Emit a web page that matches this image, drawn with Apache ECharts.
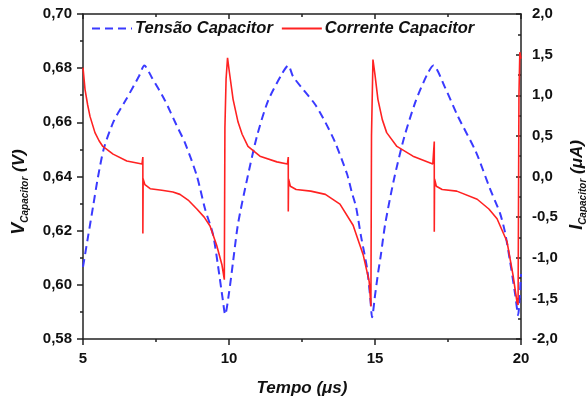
<!DOCTYPE html>
<html>
<head>
<meta charset="utf-8">
<script src="https://cdn.jsdelivr.net/npm/echarts@6/dist/echarts.min.js"></script>
<style>html,body{margin:0;padding:0;background:#fff}#c{width:587px;height:402px}</style>
</head>
<body>
<div id="c"></div>
<script>
// Voltage (V) vs time (µs)
var vTime = [5.0,5.17,5.34,5.51,5.72,6.06,6.47,6.92,7.1,
  7.36,7.81,8.2,8.49,8.9,9.18,9.45,9.62,9.79,9.87,
  10.0,10.14,10.31,10.62,10.96,11.34,11.82,12.03,
  12.19,12.55,12.95,13.3,13.63,14.04,14.21,14.35,14.52,14.73,14.84,14.9,
  15.0,15.1,15.2,15.35,15.65,16.0,16.4,16.8,17.0,
  17.4,17.84,18.46,18.94,19.28,19.45,19.62,19.8,19.9,20.0];
var vValues = [0.6066,0.6176,0.6286,0.6396,0.6506,0.6606,0.6683,0.6771,0.681,
  0.6765,0.668,0.659,0.6525,0.6402,0.628,0.6187,0.6073,0.5943,0.589,
  0.597,0.6086,0.6226,0.639,0.655,0.668,0.678,0.681,
  0.677,0.672,0.6666,0.660,0.6527,0.641,0.634,0.6288,0.618,0.606,0.595,0.588,
  0.596,0.604,0.611,0.6225,0.639,0.6545,0.668,0.678,0.681,
  0.6728,0.6622,0.649,0.6354,0.6265,0.6195,0.609,0.5965,0.5888,0.604];
// Current (µA) vs time (µs)
var iTime = [5.0,5.07,5.16,5.24,5.41,5.55,5.68,6.03,6.5,7.02,7.05,7.05,7.06,7.12,7.3,7.7,8.08,8.32,8.6,8.9,9.15,9.35,9.58,9.76,9.84,
  9.86,9.9,9.95,10.0,10.03,10.14,10.31,10.45,10.65,11.06,11.64,12.0,12.03,12.03,12.04,12.1,12.3,12.8,13.3,13.8,14.25,14.6,14.8,14.86,
  14.88,14.93,15.0,15.1,15.25,15.4,15.75,16.3,16.98,17.03,17.03,17.04,17.1,17.3,17.8,18.5,18.9,19.18,19.52,19.73,19.86,19.9,
  19.93,19.96,20.0];
var iValues = [1.34,1.07,0.88,0.74,0.54,0.44,0.37,0.275,0.19,0.153,0.24,-0.70,-0.03,-0.10,-0.15,-0.17,-0.19,-0.22,-0.29,-0.40,-0.50,-0.61,-0.85,-1.09,-1.27,
  0.6,1.2,1.46,1.32,1.24,0.95,0.67,0.52,0.37,0.25,0.18,0.153,0.24,-0.43,-0.03,-0.12,-0.16,-0.18,-0.22,-0.34,-0.60,-0.97,-1.29,-1.6,
  0.5,1.44,1.25,0.95,0.7,0.54,0.37,0.25,0.153,0.43,-0.68,-0.03,-0.12,-0.16,-0.18,-0.28,-0.40,-0.52,-0.80,-1.22,-1.54,-1.58,
  1.0,1.53,1.45];
var xTicks = [5, 10, 15, 20];
var seriesNames = ['Tensão Capacitor', 'Corrente Capacitor'];

var vData = vTime.map(function (t, k) { return [t, vValues[k]]; });
var iData = iTime.map(function (t, k) { return [t, iValues[k]]; });

var axisCol = '#222';
var lab = {fontFamily: 'Liberation Sans', fontWeight: 'bold', fontSize: 15, color: '#111'};
function comma(d) { return function (v) { return v.toFixed(d).replace('.', ','); }; }

var chart = echarts.init(document.getElementById('c'), null, {renderer: 'canvas'});
chart.setOption({
  animation: false,
  backgroundColor: '#fff',
  grid: {left: 83, right: 66, top: 14, bottom: 61},
  legend: {
    left: 86, top: 15, itemWidth: 40, itemHeight: 14, itemGap: 8,
    data: seriesNames,
    itemStyle: {color: 'rgba(0,0,0,0)', borderWidth: 0},
    textStyle: {fontFamily: 'Liberation Sans', fontWeight: 'bold', fontStyle: 'italic', fontSize: 16.5, color: '#111', padding: [0, 0, 0, -2]}
  },
  xAxis: [{
    type: 'value', min: 5, max: 20, interval: 5, position: 'bottom',
    axisLine: {show: true, onZero: false, lineStyle: {color: axisCol, width: 1.5}},
    axisTick: {show: true, inside: false, length: 6, lineStyle: {color: axisCol, width: 1.5}},
    minorTick: {show: true, splitNumber: 2, length: 3, lineStyle: {color: axisCol, width: 1.5}},
    splitLine: {show: false},
    axisLabel: Object.assign({margin: 12, formatter: function (v) { return xTicks.indexOf(v) >= 0 ? String(v) : ''; }}, lab),
    name: 'Tempo (μs)', nameLocation: 'middle', nameGap: 41,
    nameTextStyle: {fontFamily: 'Liberation Sans', fontWeight: 'bold', fontStyle: 'italic', fontSize: 17, color: '#111'}
  }, {
    type: 'value', min: 5, max: 20, interval: 5, position: 'top',
    axisLine: {show: true, onZero: false, lineStyle: {color: axisCol, width: 1.5}},
    axisTick: {show: true, inside: true, length: 5, lineStyle: {color: axisCol, width: 1.5}},
    minorTick: {show: true, splitNumber: 2, length: 3, lineStyle: {color: axisCol, width: 1.5}},
    splitLine: {show: false}, axisLabel: {show: false}
  }],
  yAxis: [{
    type: 'value', min: 0.58, max: 0.70, interval: 0.02, position: 'left',
    axisLine: {show: true, onZero: false, lineStyle: {color: axisCol, width: 1.5}},
    axisTick: {show: true, inside: false, length: 6, lineStyle: {color: axisCol, width: 1.5}},
    minorTick: {show: true, splitNumber: 2, length: 3, lineStyle: {color: axisCol, width: 1.5}},
    splitLine: {show: false},
    axisLabel: Object.assign({margin: 11, formatter: comma(2)}, lab)
  }, {
    type: 'value', min: -2, max: 2, interval: 0.5, position: 'right',
    axisLine: {show: true, onZero: false, lineStyle: {color: axisCol, width: 1.5}},
    axisTick: {show: true, inside: true, length: 5, lineStyle: {color: axisCol, width: 1.5}},
    minorTick: {show: true, splitNumber: 2, length: 3, lineStyle: {color: axisCol, width: 1.5}},
    splitLine: {show: false},
    axisLabel: Object.assign({margin: 11, formatter: comma(1)}, lab)
  }],
  series: [{
    name: seriesNames[0], type: 'line', xAxisIndex: 0, yAxisIndex: 0,
    data: vData, symbol: 'none', smooth: 0.25, z: 2,
    lineStyle: {color: '#3a3aff', width: 2, type: [8, 5]},
    itemStyle: {color: '#3a3aff'}
  }, {
    name: seriesNames[1], type: 'line', xAxisIndex: 0, yAxisIndex: 1,
    data: iData, symbol: 'none', smooth: false, z: 3,
    lineStyle: {color: '#ff2222', width: 1.6},
    itemStyle: {color: '#ff2222'}
  }],
  graphic: [{
    type: 'text', x: 19, y: 192, rotation: Math.PI / 2,
    style: {
      text: '{v|V}{s|Capacitor}{n| (V)}', align: 'center', verticalAlign: 'middle',
      rich: {
        v: {fontFamily: 'Liberation Sans', fontWeight: 'bold', fontStyle: 'italic', fontSize: 18, fill: '#111', lineHeight: 22},
        s: {fontFamily: 'Liberation Sans', fontWeight: 'bold', fontStyle: 'italic', fontSize: 10, fill: '#111', verticalAlign: 'bottom', lineHeight: 22, padding: [8, 0, 0, 0]},
        n: {fontFamily: 'Liberation Sans', fontWeight: 'bold', fontStyle: 'italic', fontSize: 17, fill: '#111', lineHeight: 22}
      }
    }
  }, {
    type: 'text', x: 577, y: 185, rotation: Math.PI / 2,
    style: {
      text: '{v|I}{s|Capacitor}{n| (μA)}', align: 'center', verticalAlign: 'middle',
      rich: {
        v: {fontFamily: 'Liberation Sans', fontWeight: 'bold', fontStyle: 'italic', fontSize: 18, fill: '#111', lineHeight: 22},
        s: {fontFamily: 'Liberation Sans', fontWeight: 'bold', fontStyle: 'italic', fontSize: 10, fill: '#111', verticalAlign: 'bottom', lineHeight: 22, padding: [8, 0, 0, 0]},
        n: {fontFamily: 'Liberation Sans', fontWeight: 'bold', fontStyle: 'italic', fontSize: 17, fill: '#111', lineHeight: 22}
      }
    }
  }]
});
</script>
</body>
</html>
